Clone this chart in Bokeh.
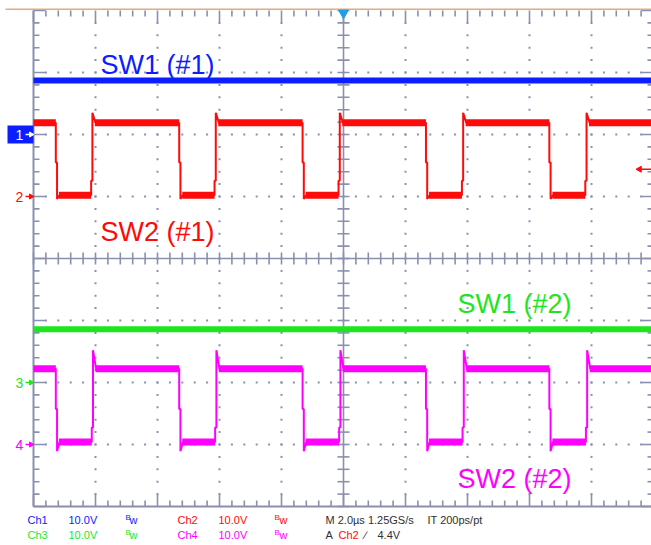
from bokeh.plotting import figure
from bokeh.models import Range1d
from bokeh.embed import file_html
from bokeh.resources import INLINE
from bokeh.core.properties import value
import math

# ---------------- data ----------------
time_per_div_us = 2.0
volts_per_div = 10.0
channels = ["Ch1", "Ch2", "Ch3", "Ch4"]
channel_offset_div = [2.0, 1.0, -2.0, -3.0]
trace_labels = ["SW1 (#1)", "SW2 (#1)", "SW1 (#2)", "SW2 (#2)"]
record_start_us = -10.0
record_end_us = 10.0

sw1_1_level_v = 8.7
sw2_1_high_v = 11.9
sw2_1_low_v = 0.2
sw2_1_fall_us = [-9.28, -5.30, -1.32, 2.66, 6.64]
sw2_1_rise_us = [-8.10, -4.12, -0.12, 3.86, 7.84]
sw2_1_overshoot_v = 1.6
sw2_1_undershoot_v = 0.6

sw1_2_level_v = 8.6
sw2_2_high_v = 12.2
sw2_2_low_v = 0.4
sw2_2_fall_us = [-9.28, -5.30, -1.32, 2.66, 6.64]
sw2_2_rise_us = [-8.08, -4.10, -0.10, 3.88, 7.86]
sw2_2_overshoot_v = 3.0
sw2_2_undershoot_v = 1.5

trigger_channel = "Ch2"
trigger_level_v = 4.4
trigger_time_us = 0.0
sample_rate_text = "1.25GS/s"
interp_text = "IT 200ps/pt"

# ---------------- layout helpers ----------------
X0_PX, DIV_PX, Y0_PX = 33.0, 62.0, 258.0
W, H = 651, 545


def xpx(px):
    return ((px - X0_PX) / DIV_PX - 5.0) * time_per_div_us


def ypx(py):
    return (Y0_PX - py) / DIV_PX


def dx(px):
    return px / DIV_PX * time_per_div_us


def dy(px):
    return px / DIV_PX


def vy(ch, v):
    return channel_offset_div[ch] + v / volts_per_div


BLUE = "#0a1eff"
RED = "#ff0a0a"
GREEN = "#1ee61e"
MAGENTA = "#ff00ff"
GRID = "#8a90ae"
DARK = "#303030"
FONT = value("Liberation Sans")
SFONT = value("Liberation Sans")

p = figure(width=W, height=H,
           x_range=Range1d(xpx(0), xpx(W)), y_range=Range1d(ypx(H), ypx(0)),
           output_backend="svg", toolbar_location=None,
           x_axis_location=None, y_axis_location=None,
           min_border=0, min_border_left=0, min_border_right=0,
           min_border_top=0, min_border_bottom=0,
           outline_line_color=None, background_fill_color="white",
           border_fill_color="white")
p.grid.visible = False

t_left = xpx(X0_PX)
t_right = xpx(X0_PX + 10 * DIV_PX)

# ---------------- graticule (dotted major lines) ----------------
gx, gy = [], []
for d in range(1, 10):
    if d == 5:
        continue
    t = (d - 5) * time_per_div_us
    for k in range(1, 40):
        gx.append(t); gy.append(-4 + k * 0.2)
for d in range(-3, 4):
    if d == 0:
        continue
    for k in range(1, 50):
        gx.append(t_left + k * 0.2 * time_per_div_us); gy.append(d)
p.scatter(x=gx, y=gy, marker="square", size=2, fill_color=GRID, line_color=None)

# center cross
p.segment(x0=[0, t_left], y0=[-4, 0], x1=[0, t_right], y1=[4, 0],
          line_color=GRID, line_width=1.6)
cx0, cy0, cx1, cy1 = [], [], [], []
for k in range(0, 51):
    t = t_left + k * 0.2 * time_per_div_us
    cx0.append(t); cx1.append(t); cy0.append(-dy(6)); cy1.append(dy(6))
for k in range(0, 41):
    yv = -4 + k * 0.2
    cx0.append(-dx(6)); cx1.append(dx(6)); cy0.append(yv); cy1.append(yv)
# border ticks
for k in range(0, 51):
    t = t_left + k * 0.2 * time_per_div_us
    L = 12 if k % 5 == 0 else 6
    cx0 += [t, t]; cx1 += [t, t]
    cy0 += [4, -4]; cy1 += [4 - dy(L), -4 + dy(L)]
for k in range(0, 41):
    yv = -4 + k * 0.2
    L = 12 if k % 5 == 0 else 6
    cx0 += [t_left, t_right]; cx1 += [t_left + dx(L), t_right - dx(L)]
    cy0 += [yv, yv]; cy1 += [yv, yv]
p.segment(x0=cx0, y0=cy0, x1=cx1, y1=cy1, line_color=GRID, line_width=1.6)

# borders
p.segment(x0=[t_left, t_left, t_right], y0=[-4, -4, -4],
          x1=[t_left, t_right, t_right], y1=[4, -4, 4],
          line_color=GRID, line_width=2)
p.segment(x0=[xpx(5)], y0=[ypx(8.7)], x1=[xpx(W)], y1=[ypx(8.7)],
          line_color="#e6a878", line_width=1.6)

# ---------------- traces ----------------
def square_wave(ch, high, low, falls, rises, over, under, color):
    yh, yl = vy(ch, high), vy(ch, low)
    sw = yh - yl
    xs, ys = [record_start_us], [yh]
    plx0, plx1, ply = [], [], []
    prev = record_start_us
    for f, r in zip(falls, rises):
        plx0.append(prev); plx1.append(f); ply.append(yh)
        xs += [f, f, f + 0.04, f + 0.04, f + 0.12]
        ys += [yh, yh - 0.55 * sw, yh - 0.55 * sw, yl - under / volts_per_div, yl]
        plx0.append(f + 0.1); plx1.append(r - 0.04); ply.append(yl)
        xs += [r - 0.04, r - 0.04, r, r, r + 0.1]
        ys += [yl, yl + 0.2 * sw, yl + 0.2 * sw, yh + over / volts_per_div, yh]
        prev = r + 0.08
    plx0.append(prev); plx1.append(record_end_us); ply.append(yh)
    xs.append(record_end_us); ys.append(yh)
    p.line(xs, ys, line_color=color, line_width=2)
    p.segment(x0=plx0, y0=ply, x1=plx1, y1=ply, line_color=color, line_width=7)


p.segment(x0=[record_start_us], y0=[vy(0, sw1_1_level_v)], x1=[record_end_us],
          y1=[vy(0, sw1_1_level_v)], line_color=BLUE, line_width=6)
square_wave(1, sw2_1_high_v, sw2_1_low_v, sw2_1_fall_us, sw2_1_rise_us,
            sw2_1_overshoot_v, sw2_1_undershoot_v, RED)
p.segment(x0=[record_start_us], y0=[vy(2, sw1_2_level_v)], x1=[record_end_us],
          y1=[vy(2, sw1_2_level_v)], line_color=GREEN, line_width=6)
square_wave(3, sw2_2_high_v, sw2_2_low_v, sw2_2_fall_us, sw2_2_rise_us,
            sw2_2_overshoot_v, sw2_2_undershoot_v, MAGENTA)

# ---------------- trace labels ----------------
lab_px = [(100, 64), (100, 231), (457, 303), (457, 478)]
p.text(x=[xpx(a) for a, b in lab_px], y=[ypx(b) for a, b in lab_px],
       text=trace_labels, text_color=[BLUE, RED, GREEN, MAGENTA],
       text_font=FONT, text_font_size="27px", text_baseline="alphabetic",
       text_align="left")

# ---------------- channel ground markers ----------------
ch_colors = [BLUE, RED, GREEN, MAGENTA]
p.quad(left=[xpx(7)], right=[xpx(33)], bottom=[vy(0, 0) - dy(9)],
       top=[vy(0, 0) + dy(9)], fill_color=BLUE, line_color=None)
mk_y = [vy(i, 0) for i in range(4)]
p.text(x=[xpx(15)] * 4, y=mk_y, text=[c[-1] for c in channels],
       text_color=["white", RED, GREEN, MAGENTA], text_font=FONT,
       text_font_size="14px", text_baseline="middle", text_align="left")
arrow_cols = ["white", RED, GREEN, MAGENTA]
p.segment(x0=[xpx(25)] * 4, y0=mk_y, x1=[xpx(30)] * 4, y1=mk_y,
          line_color=arrow_cols, line_width=1.5)
p.scatter(x=[xpx(30.5)] * 4, y=mk_y, marker="triangle", size=5,
          angle=-math.pi / 2, fill_color=arrow_cols, line_color=arrow_cols)

# trigger level marker (right side) and trigger position (top)
trig_y = vy(channels.index(trigger_channel), trigger_level_v)
p.segment(x0=[xpx(640)], y0=[trig_y], x1=[xpx(651)], y1=[trig_y],
          line_color=RED, line_width=1.5)
p.scatter(x=[xpx(639)], y=[trig_y], marker="triangle", size=6,
          angle=math.pi / 2, fill_color=RED, line_color=RED)
p.scatter(x=[trigger_time_us], y=[ypx(12.5)], marker="inverted_triangle", size=10,
          fill_color="#1e9ee6", line_color="#1e9ee6")

# ---------------- status bar ----------------
row1, row2 = ypx(519.5), ypx(534.5)
vtxt = f"{volts_per_div:.1f}V"
st_x, st_y, st_t, st_c = [], [], [], []


def add(px, row, t, c):
    st_x.append(xpx(px)); st_y.append(row); st_t.append(t); st_c.append(c)


for ch_i, (cx, row) in enumerate([(27, row1), (177, row1), (27, row2), (177, row2)]):
    add(cx, row, channels[ch_i], ch_colors[ch_i])
    add(cx + 41, row, vtxt, ch_colors[ch_i])
    add(cx + 102, row, "w", ch_colors[ch_i])
add(325, row1, f"M {time_per_div_us:.1f}\u00b5s {sample_rate_text}", DARK)
add(427, row1, interp_text, DARK)
add(325, row2, "A", DARK)
add(338, row2, trigger_channel, RED)
add(364, row2, "\u2215", DARK)
add(377, row2, f"{trigger_level_v:.1f}V", DARK)
p.text(x=st_x, y=st_y, text=st_t, text_color=st_c, text_font=SFONT,
       text_font_size="11px", text_baseline="middle", text_align="left")
# small "B" of the bandwidth-limit badge
bx = [xpx(125), xpx(274), xpx(125), xpx(274)]
by = [row1 + dy(3), row1 + dy(3), row2 + dy(3), row2 + dy(3)]
p.text(x=bx, y=by, text=["B"] * 4, text_color=ch_colors, text_font=SFONT,
       text_font_size="8px", text_baseline="middle", text_align="left")

open("out.html", "w").write(file_html(p, INLINE))
